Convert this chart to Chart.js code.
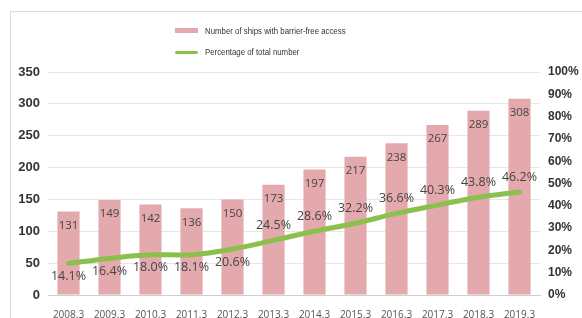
<!DOCTYPE html>
<html>
<head>
<meta charset="utf-8">
<script src="https://cdn.jsdelivr.net/npm/chart.js@4/dist/chart.umd.min.js"></script>
<style>
  html, body { margin: 0; padding: 0; background: #fff; }
  #wrap { position: relative; width: 582px; height: 318px; overflow: hidden; }
  #frame { position: absolute; left: 10px; top: 11px; width: 600px; height: 400px; border: 1px solid #dcdcdc; box-sizing: border-box; }
  #cv { position: absolute; left: 0; top: 0; }
  .lg { position: absolute; left: 205px; font-family: "Liberation Sans", sans-serif; font-size: 9px; color: #333; line-height: 10px; white-space: nowrap; transform: scaleX(0.87); transform-origin: 0 0; }
  .sw { position: absolute; left: 175px; width: 23px; }
</style>
</head>
<body>
<div id="wrap">
  <div id="frame"></div>
  <canvas id="cv" width="582" height="318"></canvas>
  <div class="sw" style="top:28px;height:5px;background:#e4a9ad;"></div>
  <div class="lg" style="top:26px;">Number of ships with barrier-free access</div>
  <div class="sw" style="top:51px;height:3px;background:#8cc04c;border-radius:2px;"></div>
  <div class="lg" style="top:47px;">Percentage of total number</div>
</div>
<script>
const categories = ["2008.3","2009.3","2010.3","2011.3","2012.3","2013.3","2014.3","2015.3","2016.3","2017.3","2018.3","2019.3"];
const ships = [131,149,142,136,150,173,197,217,238,267,289,308];
const percentages = [14.1,16.4,18.0,18.1,20.6,24.5,28.6,32.2,36.6,40.3,43.8,46.2];
const leftTicks = [0,50,100,150,200,250,300,350];
const rightTicks = [0,10,20,30,40,50,60,70,80,90,100];

const labelPlugin = {
  id: 'valueLabels',
  afterDatasetsDraw(chart) {
    const ctx = chart.ctx;
    ctx.save();
    ctx.textAlign = 'center';
    ctx.textBaseline = 'middle';
    ctx.fillStyle = '#444';
    const barMeta = chart.getDatasetMeta(0);
    ctx.font = '11.5px "Open Sans", sans-serif';
    barMeta.data.forEach((el, i) => {
      ctx.fillText(String(ships[i]), el.x, el.y + 14);
    });
    const lineMeta = chart.getDatasetMeta(1);
    ctx.font = '12.5px "Open Sans", sans-serif';
    lineMeta.data.forEach((el, i) => {
      const dy = i < 5 ? 13 : -15;
      ctx.fillText(percentages[i].toFixed(1) + '%', el.x, el.y + dy);
    });
    ctx.restore();
  }
};

new Chart(document.getElementById('cv'), {
  type: 'bar',
  data: {
    labels: categories,
    datasets: [
      {
        type: 'bar',
        label: 'Number of ships with barrier-free access',
        data: ships,
        backgroundColor: '#e4a9ad',
        yAxisID: 'y',
        barPercentage: 0.54,
        categoryPercentage: 1.0,
        order: 1
      },
      {
        type: 'line',
        label: 'Percentage of total number',
        data: percentages,
        borderColor: '#8cc04c',
        borderWidth: 5,
        borderCapStyle: 'round',
        tension: 0.4,
        pointRadius: 0,
        fill: false,
        yAxisID: 'y1',
        order: 0
      }
    ]
  },
  options: {
    responsive: false,
    animation: false,
    events: [],
    layout: { padding: { top: 72, left: 0, right: 0, bottom: 0 } },
    plugins: { legend: { display: false }, tooltip: { enabled: false } },
    scales: {
      x: {
        grid: { display: false },
        border: { display: true, color: '#cfcfcf', width: 1 },
        ticks: { color: '#555', font: { family: 'Open Sans', size: 10 }, padding: 6, maxRotation: 0, autoSkip: false },
        afterFit(s) { s.height = 23; }
      },
      y: {
        position: 'left',
        min: 0, max: 350,
        afterBuildTicks(s) { s.ticks = leftTicks.map(v => ({ value: v })); },
        grid: { color: '#e6e6e6', lineWidth: 1, drawTicks: false },
        border: { display: false },
        ticks: { color: '#333', font: { family: 'Liberation Sans', size: 13, weight: 'bold' }, padding: 8 },
        afterFit(s) { s.width = 48; }
      },
      y1: {
        position: 'right',
        min: 0, max: 100,
        afterBuildTicks(s) { s.ticks = rightTicks.map(v => ({ value: v })); },
        grid: { display: false, drawTicks: false },
        border: { display: false },
        ticks: { color: '#333', font: { family: 'Liberation Sans', size: 12, weight: 'bold' }, padding: 8, callback: v => v + '%' },
        afterFit(s) { s.width = 42; }
      }
    }
  },
  plugins: [labelPlugin]
});
</script>
</body>
</html>
